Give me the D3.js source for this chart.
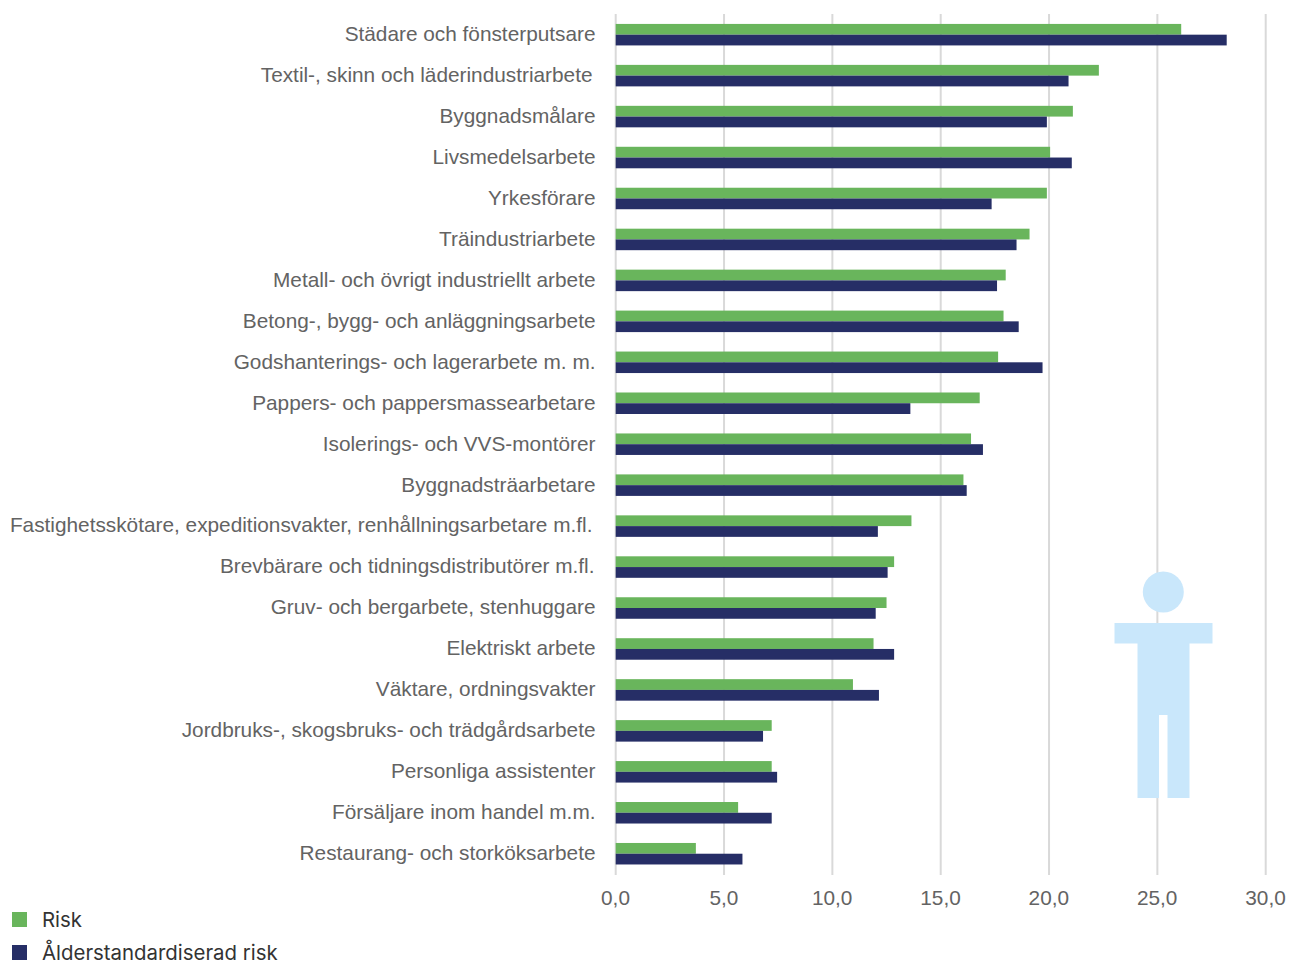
<!DOCTYPE html>
<html><head><meta charset="utf-8">
<script src="https://cdn.jsdelivr.net/npm/d3@7"></script>
<style>
html,body{margin:0;padding:0;background:#fff;overflow:hidden}
svg{display:block}
</style></head><body><svg id="c" width="1289" height="962"></svg>
<script>
const categories=["Städare och fönsterputsare","Textil-, skinn och läderindustriarbete","Byggnadsmålare","Livsmedelsarbete","Yrkesförare","Träindustriarbete","Metall- och övrigt industriellt arbete","Betong-, bygg- och anläggningsarbete","Godshanterings- och lagerarbete m. m.","Pappers- och pappersmassearbetare","Isolerings- och VVS-montörer","Byggnadsträarbetare","Fastighetsskötare, expeditionsvakter, renhållningsarbetare m.fl.","Brevbärare och tidningsdistributörer m.fl.","Gruv- och bergarbete, stenhuggare","Elektriskt arbete","Väktare, ordningsvakter","Jordbruks-, skogsbruks- och trädgårdsarbete","Personliga assistenter","Försäljare inom handel m.m.","Restaurang- och storköksarbete"];
const risk=[26.1,22.3,21.1,20.05,19.9,19.1,18.0,17.9,17.65,16.8,16.4,16.05,13.65,12.85,12.5,11.9,10.95,7.2,7.2,5.65,3.7];
const ageRisk=[28.2,20.9,19.9,21.05,17.35,18.5,17.6,18.6,19.7,13.6,16.95,16.2,12.1,12.55,12.0,12.85,12.15,6.8,7.45,7.2,5.85];
const ticks=[0,5,10,15,20,25,30];
const legendLabels=["Risk","Ålderstandardiserad risk"];
const colors=["#69b55c","#262e66"];

const svg=d3.select("#c");
const x=d3.scaleLinear().domain([0,30]).range([615.7,1265.7]);
const y=d3.scaleBand().domain(categories).range([14.2,874.2]).paddingInner(0).paddingOuter(0);
const sub=d3.scaleBand().domain([0,1]).range([0,21.5]);
const bandOffset=(y.bandwidth()-21.5)/2;
const fmt=v=>v.toFixed(1).replace(".",",");
const font="Liberation Sans, Arial, sans-serif";
const gray="#636363";

svg.append("g").selectAll("line").data(ticks).join("line")
  .attr("x1",d=>x(d)).attr("x2",d=>x(d)).attr("y1",14).attr("y2",875)
  .attr("stroke","#d9d9d9").attr("stroke-width",2);

[risk,ageRisk].forEach((vals,i)=>{
  svg.append("g").selectAll("rect").data(vals).join("rect")
    .attr("x",x(0)).attr("y",(d,j)=>y(categories[j])+bandOffset+sub(i))
    .attr("width",d=>x(d)-x(0)).attr("height",sub.bandwidth()).attr("fill",colors[i]);
});

const axisY=d3.axisLeft(y).tickSize(0).tickPadding(0);
const gy=svg.append("g").attr("transform","translate(595.5,-0.3)").call(axisY);
gy.select(".domain").remove();
gy.selectAll("text").attr("font-family",font).attr("font-size",20.8).attr("fill",gray)
  .attr("dx",d=>d.startsWith("Textil")||d.startsWith("Fastighets")?-3:d.startsWith("Brevb")?-1:0);

const axisX=d3.axisBottom(x).tickValues(ticks).tickFormat(fmt).tickSize(0).tickPadding(0);
const gx=svg.append("g").attr("transform","translate(-0.7,890)").call(axisX);
gx.select(".domain").remove();
gx.selectAll("text").attr("font-family",font).attr("font-size",20.8).attr("fill",gray);

// person pictogram
const p=svg.append("g").attr("fill","#c9e7fb");
p.append("circle").attr("cx",1163.3).attr("cy",592).attr("r",20.5);
p.append("path").attr("d","M1114.5 623H1212.5V643.5H1189.5V798H1167.5V715H1159V798H1137.5V643.5H1114.5Z");

// legend
const lg=svg.append("g").selectAll("g").data(legendLabels).join("g")
  .attr("transform",(d,i)=>`translate(12,${[912,945][i]})`);
lg.append("rect").attr("width",15).attr("height",15).attr("fill",(d,i)=>colors[i]);
lg.append("text").attr("x",30).attr("y",15).attr("font-family","Inter, sans-serif").attr("font-size",20.4).attr("fill","#333").text(d=>d);
</script></body></html>
